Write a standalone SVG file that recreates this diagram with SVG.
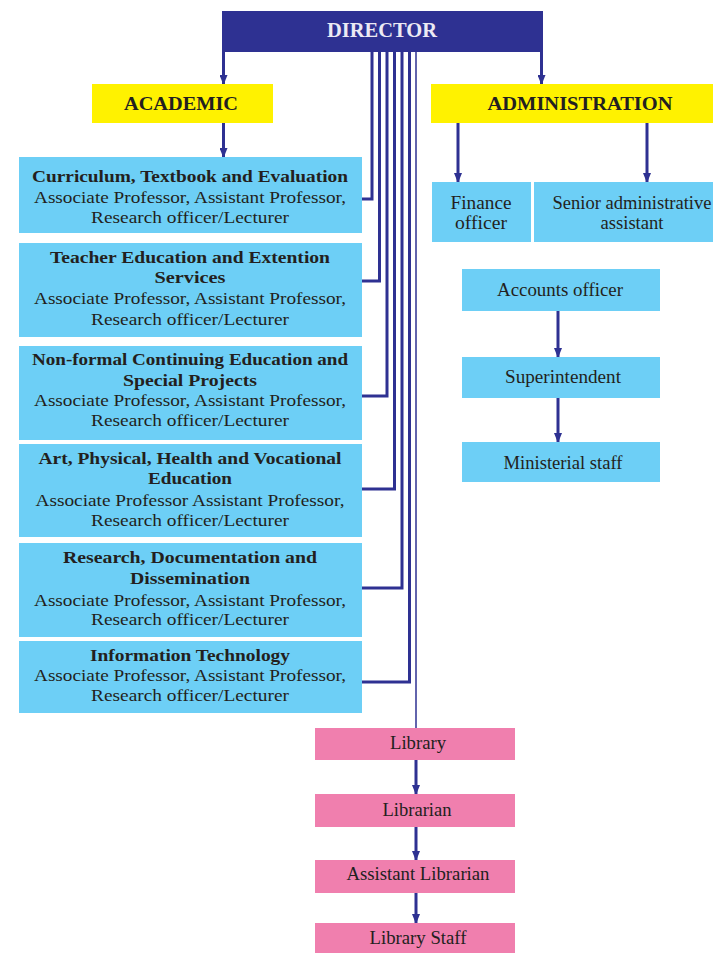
<svg xmlns="http://www.w3.org/2000/svg" width="713" height="953" viewBox="0 0 713 953">
<style>
.blue{fill:#6dcff6}
.yel{fill:#fff200}
.pink{fill:#f07fae}
.t{font-family:"Liberation Serif",serif;fill:#231f20;text-anchor:middle}
.b{font-weight:bold;font-size:17px}
.r{font-size:17px}
.c{font-size:18px}
.h{font-weight:bold;font-size:19px}
.ln{stroke:#2e3192;stroke-width:3;fill:none}
.thin{stroke:#2e3192;stroke-width:1.5;fill:none}
</style>
<defs>
<marker id="ah" markerWidth="10" markerHeight="8" refX="9" refY="4" orient="auto" markerUnits="userSpaceOnUse">
<path d="M0,0 L10,4 L0,8 z" fill="#2e3192"/>
</marker>
</defs>
<rect width="713" height="953" fill="#ffffff"/>

<g id="connectors">
<line class="ln" x1="223.5" y1="50" x2="223.5" y2="84" marker-end="url(#ah)"/>
<line class="ln" x1="541.5" y1="50" x2="541.5" y2="84" marker-end="url(#ah)"/>
<line class="ln" x1="223.5" y1="123" x2="223.5" y2="157" marker-end="url(#ah)"/>
<line class="ln" x1="458" y1="123" x2="458" y2="182" marker-end="url(#ah)"/>
<line class="ln" x1="647" y1="123" x2="647" y2="182" marker-end="url(#ah)"/>
<line class="ln" x1="558" y1="311" x2="558" y2="357" marker-end="url(#ah)"/>
<line class="ln" x1="558" y1="398" x2="558" y2="442" marker-end="url(#ah)"/>
<polyline class="ln" points="372,50 372,199 362,199"/>
<polyline class="ln" points="379.5,50 379.5,281 362,281"/>
<polyline class="ln" points="387,50 387,396 362,396"/>
<polyline class="ln" points="394.5,50 394.5,489 362,489"/>
<polyline class="ln" points="402,50 402,588 362,588"/>
<polyline class="ln" points="409.5,50 409.5,682 362,682"/>
<line class="thin" x1="416" y1="50" x2="416" y2="728"/>
<line class="ln" x1="416" y1="760" x2="416" y2="794" marker-end="url(#ah)"/>
<line class="ln" x1="416" y1="827" x2="416" y2="860" marker-end="url(#ah)"/>
<line class="ln" x1="416" y1="893" x2="416" y2="923" marker-end="url(#ah)"/>
</g>

<g id="director">
<rect x="222" y="11" width="321" height="41" fill="#2e3192"/>
<text x="382" y="37" font-family="Liberation Serif, serif" font-weight="bold" font-size="20" fill="#eceaf4" text-anchor="middle" textLength="110" lengthAdjust="spacingAndGlyphs">DIRECTOR</text>
</g>

<g id="academic">
<rect class="yel" x="92" y="84" width="181" height="39"/>
<text class="t h" x="181" y="110" textLength="114" lengthAdjust="spacingAndGlyphs">ACADEMIC</text>
</g>

<g id="administration">
<rect class="yel" x="431" y="84" width="282" height="39"/>
<text class="t h" x="580" y="110" textLength="185" lengthAdjust="spacingAndGlyphs">ADMINISTRATION</text>
</g>

<g id="curriculum">
<rect class="blue" x="19" y="157" width="343" height="76"/>
<text class="t b" x="190" y="182" textLength="316" lengthAdjust="spacingAndGlyphs">Curriculum, Textbook and Evaluation</text>
<text class="t r" x="190" y="203" textLength="312" lengthAdjust="spacingAndGlyphs">Associate Professor, Assistant Professor,</text>
<text class="t r" x="190" y="223" textLength="198" lengthAdjust="spacingAndGlyphs">Research officer/Lecturer</text>
</g>

<g id="teacher">
<rect class="blue" x="19" y="243" width="343" height="94"/>
<text class="t b" x="190" y="263" textLength="280" lengthAdjust="spacingAndGlyphs">Teacher Education and Extention</text>
<text class="t b" x="190" y="283" textLength="71" lengthAdjust="spacingAndGlyphs">Services</text>
<text class="t r" x="190" y="304" textLength="312" lengthAdjust="spacingAndGlyphs">Associate Professor, Assistant Professor,</text>
<text class="t r" x="190" y="325" textLength="198" lengthAdjust="spacingAndGlyphs">Research officer/Lecturer</text>
</g>

<g id="nonformal">
<rect class="blue" x="19" y="346" width="343" height="94"/>
<text class="t b" x="190" y="365" textLength="316" lengthAdjust="spacingAndGlyphs">Non-formal Continuing Education and</text>
<text class="t b" x="190" y="386" textLength="134" lengthAdjust="spacingAndGlyphs">Special Projects</text>
<text class="t r" x="190" y="406" textLength="312" lengthAdjust="spacingAndGlyphs">Associate Professor, Assistant Professor,</text>
<text class="t r" x="190" y="426" textLength="198" lengthAdjust="spacingAndGlyphs">Research officer/Lecturer</text>
</g>

<g id="art">
<rect class="blue" x="19" y="444" width="343" height="93"/>
<text class="t b" x="190" y="464" textLength="303" lengthAdjust="spacingAndGlyphs">Art, Physical, Health and Vocational</text>
<text class="t b" x="190" y="484" textLength="84" lengthAdjust="spacingAndGlyphs">Education</text>
<text class="t r" x="190" y="506" textLength="309" lengthAdjust="spacingAndGlyphs">Associate Professor Assistant Professor,</text>
<text class="t r" x="190" y="526" textLength="198" lengthAdjust="spacingAndGlyphs">Research officer/Lecturer</text>
</g>

<g id="research">
<rect class="blue" x="19" y="543" width="343" height="94"/>
<text class="t b" x="190" y="563" textLength="254" lengthAdjust="spacingAndGlyphs">Research, Documentation and</text>
<text class="t b" x="190" y="584" textLength="120" lengthAdjust="spacingAndGlyphs">Dissemination</text>
<text class="t r" x="190" y="606" textLength="312" lengthAdjust="spacingAndGlyphs">Associate Professor, Assistant Professor,</text>
<text class="t r" x="190" y="625" textLength="198" lengthAdjust="spacingAndGlyphs">Research officer/Lecturer</text>
</g>

<g id="it">
<rect class="blue" x="19" y="641" width="343" height="72"/>
<text class="t b" x="190" y="661" textLength="200" lengthAdjust="spacingAndGlyphs">Information Technology</text>
<text class="t r" x="190" y="681" textLength="312" lengthAdjust="spacingAndGlyphs">Associate Professor, Assistant Professor,</text>
<text class="t r" x="190" y="701" textLength="198" lengthAdjust="spacingAndGlyphs">Research officer/Lecturer</text>
</g>

<g id="finance">
<rect class="blue" x="432" y="182" width="99" height="60"/>
<text class="t c" x="481" y="209" textLength="61" lengthAdjust="spacingAndGlyphs">Finance</text>
<text class="t c" x="481" y="229" textLength="52" lengthAdjust="spacingAndGlyphs">officer</text>
</g>

<g id="senior">
<rect class="blue" x="534" y="182" width="179" height="60"/>
<text class="t c" x="632" y="209" textLength="159" lengthAdjust="spacingAndGlyphs">Senior administrative</text>
<text class="t c" x="632" y="229" textLength="63" lengthAdjust="spacingAndGlyphs">assistant</text>
</g>

<g id="accounts">
<rect class="blue" x="462" y="269" width="198" height="42"/>
<text class="t c" x="560" y="296" textLength="126" lengthAdjust="spacingAndGlyphs">Accounts officer</text>
</g>

<g id="superintendent">
<rect class="blue" x="462" y="357" width="198" height="41"/>
<text class="t c" x="563" y="383" textLength="116" lengthAdjust="spacingAndGlyphs">Superintendent</text>
</g>

<g id="ministerial">
<rect class="blue" x="462" y="442" width="198" height="40"/>
<text class="t c" x="563" y="469" textLength="119" lengthAdjust="spacingAndGlyphs">Ministerial staff</text>
</g>

<g id="library">
<rect class="pink" x="315" y="728" width="200" height="32"/>
<text class="t c" x="418" y="749" textLength="56" lengthAdjust="spacingAndGlyphs">Library</text>
</g>

<g id="librarian">
<rect class="pink" x="315" y="794" width="200" height="33"/>
<text class="t c" x="417" y="816" textLength="69" lengthAdjust="spacingAndGlyphs">Librarian</text>
</g>

<g id="assistant-librarian">
<rect class="pink" x="315" y="860" width="200" height="33"/>
<text class="t c" x="418" y="880" textLength="143" lengthAdjust="spacingAndGlyphs">Assistant Librarian</text>
</g>

<g id="library-staff">
<rect class="pink" x="315" y="923" width="200" height="30"/>
<text class="t c" x="418" y="944" textLength="97" lengthAdjust="spacingAndGlyphs">Library Staff</text>
</g>
</svg>
